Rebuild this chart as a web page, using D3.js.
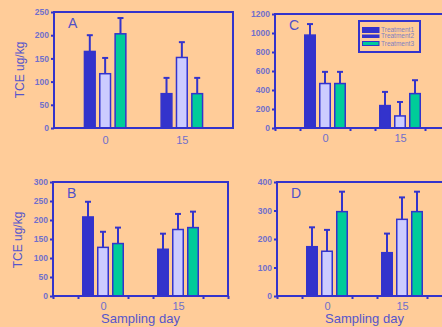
<!DOCTYPE html>
<html>
<head>
<meta charset="utf-8">
<script src="https://cdn.jsdelivr.net/npm/d3@7"></script>
<style>
  body { margin: 0; background: #ffcc99; }
  svg { display: block; font-family: "Liberation Sans", Arial, sans-serif; }
</style>
</head>
<body>
<svg id="chart" width="442" height="327"></svg>
<script>
// Data
const days = [0, 15];
const treatments = ["Treatment1", "Treatment2", "Treatment3"];

// mean values per treatment, [day0, day15]
const meanA = [[165, 74], [117, 152], [203, 74]];
const errA  = [[35, 34], [34, 33], [34, 34]];
const meanB = [[208, 123], [128, 175], [138, 180]];
const errB  = [[40, 41], [41, 41], [42, 42]];
const meanC = [[978, 236], [468, 127], [468, 362]];
const errC  = [[116, 144], [123, 147], [123, 141]];
const meanD = [[173, 152], [157, 269], [296, 296]];
const errD  = [[68, 67], [75, 77], [70, 70]];

const yTicksA = [0, 50, 100, 150, 200, 250];
const yTicksB = [0, 50, 100, 150, 200, 250, 300];
const yTicksC = [0, 200, 400, 600, 800, 1000, 1200];
const yTicksD = [0, 100, 200, 300, 400];

const blue = "#3333cc";
const fills = ["#3333cc", "#ccccff", "#00cc99"];
const labelColor = "#6f6fcc";

const svg = d3.select("#chart");

const panels = [
  { name: "A", mean: meanA, err: errA, ticks: yTicksA, left: 54, right: 233, top: 12, bottom: 128, xTicks: false },
  { name: "C", mean: meanC, err: errC, ticks: yTicksC, left: 275, right: 450, top: 14, bottom: 128, xTicks: true, legend: true },
  { name: "B", mean: meanB, err: errB, ticks: yTicksB, left: 53, right: 228, top: 182, bottom: 296, xTicks: true },
  { name: "D", mean: meanD, err: errD, ticks: yTicksD, left: 277, right: 452, top: 182, bottom: 296, xTicks: true }
];

panels.forEach(p => drawPanel(p));

function drawPanel(p) {
  const g = svg.append("g");

  const x = d3.scaleLinear().domain([-10, 25]).range([p.left, p.right]);
  const y = d3.scaleLinear().domain([0, d3.max(p.ticks)]).range([p.bottom, p.top]);

  // y axis
  const ya = g.append("g")
    .attr("transform", `translate(${p.left},0)`)
    .call(d3.axisLeft(y).tickValues(p.ticks).tickFormat(d3.format("d")).tickSize(3).tickPadding(2));
  ya.select(".domain").remove();
  ya.selectAll("line").attr("stroke", blue).attr("stroke-width", 2);
  ya.selectAll("text")
    .attr("fill", labelColor)
    .attr("font-size", 8.5)
    .attr("font-weight", "bold")
    .attr("font-family", "Liberation Sans, Arial, sans-serif");

  // x axis minor ticks
  if (p.xTicks) {
    const xa = g.append("g")
      .attr("transform", `translate(0,${p.bottom})`)
      .call(d3.axisBottom(x).tickValues([-10, -5, 5, 10, 20, 25]).tickSize(3).tickFormat(""));
    xa.select(".domain").remove();
    xa.selectAll("line").attr("stroke", blue).attr("stroke-width", 2);
  }
  // x axis labels
  const xl = g.append("g")
    .attr("transform", `translate(0,${p.bottom})`)
    .call(d3.axisBottom(x).tickValues(days).tickSize(0).tickPadding(p.name == "A" ? 8 : 6));
  xl.select(".domain").remove();
  xl.selectAll("text")
    .attr("fill", labelColor)
    .attr("font-size", 11)
    .attr("font-family", "Liberation Sans, Arial, sans-serif");

  // bars
  const offsets = [-3, 0, 3];
  const bw = 2.1;
  treatments.forEach((t, i) => {
    days.forEach((d, j) => {
      const v = p.mean[i][j];
      const e = p.err[i][j];
      const cx = x(d + offsets[i]);
      const w = x(bw) - x(0);
      // error bar
      g.append("line")
        .attr("x1", cx).attr("x2", cx)
        .attr("y1", y(v)).attr("y2", y(v + e))
        .attr("stroke", blue).attr("stroke-width", 2);
      g.append("line")
        .attr("x1", cx - 3).attr("x2", cx + 3)
        .attr("y1", y(v + e)).attr("y2", y(v + e))
        .attr("stroke", blue).attr("stroke-width", 2);
      g.append("rect")
        .attr("x", cx - w / 2)
        .attr("y", y(v))
        .attr("width", w)
        .attr("height", y(0) - y(v))
        .attr("fill", fills[i])
        .attr("stroke", blue)
        .attr("stroke-width", 1.5);
    });
  });

  // frame
  g.append("rect")
    .attr("x", p.left).attr("y", p.top)
    .attr("width", p.right - p.left).attr("height", p.bottom - p.top)
    .attr("fill", "none")
    .attr("stroke", blue)
    .attr("stroke-width", 2);

  // panel letter
  g.append("text")
    .attr("x", p.left + 14).attr("y", p.top + 16)
    .attr("font-size", 14)
    .attr("fill", "#5050c8")
    .text(p.name);

  if (p.legend) drawLegend(g);
}

// y titles
[[21, 70], [19, 240]].forEach(([cx, cy]) => {
  svg.append("text")
    .attr("transform", `translate(${cx},${cy}) rotate(-90)`)
    .attr("text-anchor", "middle")
    .attr("dominant-baseline", "middle")
    .attr("font-size", 12)
    .attr("fill", "#5555cc")
    .text("TCE ug/kg");
});

// x titles
[[140.5, 323], [364.5, 323]].forEach(([cx, cy]) => {
  svg.append("text")
    .attr("x", cx).attr("y", cy)
    .attr("text-anchor", "middle")
    .attr("font-size", 13)
    .attr("fill", "#5555cc")
    .text("Sampling day");
});

function drawLegend(g) {
  g.append("rect")
    .attr("x", 359).attr("y", 21)
    .attr("width", 61).attr("height", 31)
    .attr("fill", "none")
    .attr("stroke", blue)
    .attr("stroke-width", 2);
  const rows = [
    { y: 27.5, h: 5 },
    { y: 35, h: 2.5 },
    { y: 41.5, h: 4 }
  ];
  treatments.forEach((t, i) => {
    g.append("rect")
      .attr("x", 362.5).attr("y", rows[i].y)
      .attr("width", 16.5).attr("height", rows[i].h)
      .attr("fill", i == 2 ? fills[2] : blue)
      .attr("stroke", blue)
      .attr("stroke-width", 1);
    g.append("text")
      .attr("x", 381).attr("y", rows[i].y + rows[i].h / 2 + 2)
      .attr("font-size", 6.5)
      .attr("fill", "#8080c0")
      .text(t);
  });
}
</script>
</body>
</html>
